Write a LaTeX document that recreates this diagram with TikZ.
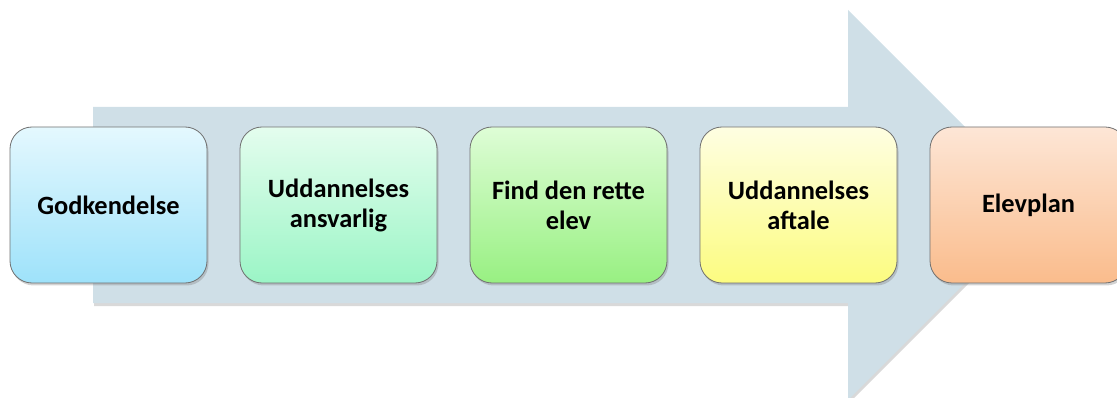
\documentclass[tikz,border=0pt]{standalone}
\usepackage{fontspec}
\setmainfont{Carlito}
\usetikzlibrary{chains,shadows}
\definecolor{arrowblue}{RGB}{207,223,231}
\definecolor{boxline}{RGB}{112,112,112}
\tikzstyle{stepbox}=[draw=boxline,line width=0.8pt,rounded corners=22pt,minimum width=197pt,minimum height=156pt,align=center,font=\fontsize{26.4}{30}\selectfont\bfseries,drop shadow={shadow xshift=1.5pt,shadow yshift=-2.5pt,opacity=0.35}]
\tikzstyle{blue}=[top color={rgb,255:red,228;green,248;blue,254},bottom color={rgb,255:red,158;green,226;blue,250}]
\tikzstyle{mint}=[top color={rgb,255:red,228;green,253;blue,238},bottom color={rgb,255:red,155;green,245;blue,198}]
\tikzstyle{lime}=[top color={rgb,255:red,222;green,253;blue,214},bottom color={rgb,255:red,152;green,240;blue,130}]
\tikzstyle{lemon}=[top color={rgb,255:red,254;green,254;blue,226},bottom color={rgb,255:red,252;green,252;blue,128}]
\tikzstyle{peach}=[top color={rgb,255:red,253;green,230;blue,214},bottom color={rgb,255:red,250;green,188;blue,140}]

\begin{document}
\begin{tikzpicture}[x=1pt,y=-1pt]
\useasboundingbox (0,0) rectangle (1117,398);
% big arrow behind the steps
\fill[arrowblue,drop shadow={shadow xshift=1pt,shadow yshift=-3pt,opacity=0.3}]
    (93,107) -- (848,107) -- (848,10) -- (1043,205) -- (848,400) -- (848,303) -- (93,303) -- cycle;
\begin{scope}[start chain=1 going right, node distance=32.2pt]
    \node [on chain=1,stepbox,blue] (godk) at (108.5,205) {Godkendelse};
    \node [on chain=1,stepbox,mint] (udd) {Uddannelses\\ansvarlig};
    \node [on chain=1,stepbox,lime] (find) {Find den rette\\elev};
    \node [on chain=1,stepbox,lemon] (aftale) {Uddannelses\\aftale};
    \node [on chain=1,stepbox,peach] (elevplan) {Elevplan};
\end{scope}
\end{tikzpicture}
\end{document}
